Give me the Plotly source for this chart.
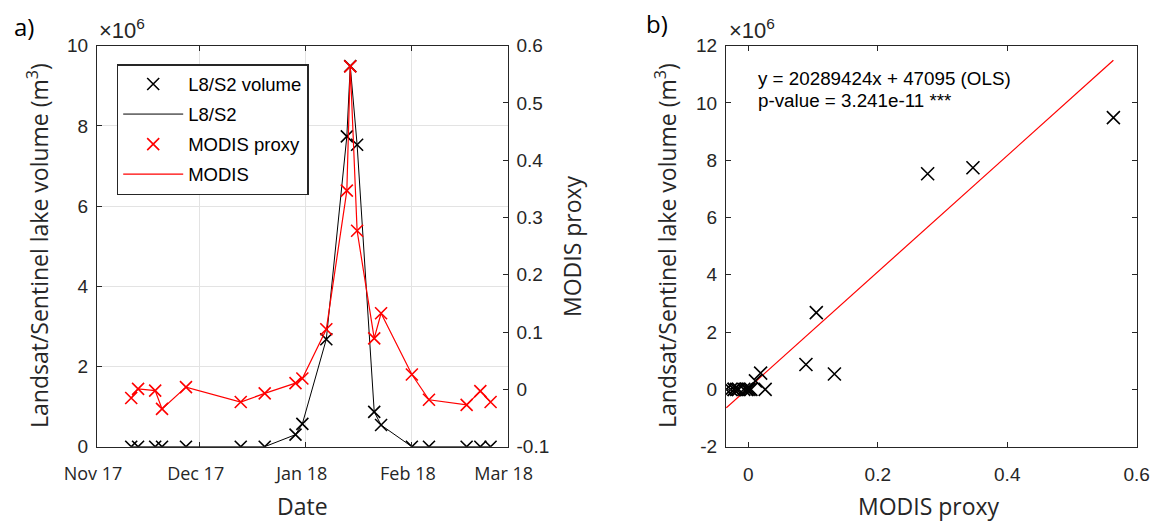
import plotly.graph_objects as go

# ---- data -------------------------------------------------------------
dates = ['2017-11-11', '2017-11-13', '2017-11-18', '2017-11-20', '2017-11-27',
         '2017-12-13', '2017-12-20', '2017-12-29', '2017-12-31', '2018-01-07',
         '2018-01-13', '2018-01-14', '2018-01-16', '2018-01-21', '2018-01-23',
         '2018-02-01', '2018-02-06', '2018-02-17', '2018-02-21', '2018-02-24']

# Landsat 8 / Sentinel-2 lake volume (m^3)
volume = [0, 0, 0, 0, 0,
          0, 0, 0.30e6, 0.57e6, 2.68e6,
          7.74e6, 9.49e6, 7.53e6, 0.87e6, 0.54e6,
          0, 0, 0, 0, 0]

# MODIS proxy (dimensionless)
modis = [-0.015, 0.001, -0.002, -0.034, 0.004,
         -0.022, -0.007, 0.011, 0.019, 0.105,
         0.347, 0.564, 0.277, 0.089, 0.133,
         0.026, -0.018, -0.027, -0.003, -0.022]

# OLS fit of volume on MODIS proxy
ols_slope = 20289424
ols_intercept = 47095
p_value_text = "3.241e-11 ***"

vol_ticks = [0, 2e6, 4e6, 6e6, 8e6, 10e6]
vol_ticks_b = [-2e6, 0, 2e6, 4e6, 6e6, 8e6, 10e6, 12e6]
modis_ticks = [-0.1, 0, 0.1, 0.2, 0.3, 0.4, 0.5, 0.6]
modis_ticks_b = [0, 0.2, 0.4, 0.6]

# ---- figure geometry ---------------------------------------------------
W, H = 1165, 522


def px(x):
    return x / W


def py(y):
    return 1 - y / H


AX = '#262626'
GRID = '#e3e3e3'
NUM_FONT = 'Liberation Sans, Arial, sans-serif'
TXT_FONT = 'Open Sans, Noto Sans, sans-serif'

fit_x = [min(modis), max(modis)]
fit_y = [ols_slope * v + ols_intercept for v in fit_x]

fig = go.Figure()

# panel a) time series
fig.add_trace(go.Scatter(x=dates, y=volume, mode='lines', name='L8/S2',
                         line=dict(color='black', width=1),
                         xaxis='x', yaxis='y', legendrank=2, legendgroup='b'))
fig.add_trace(go.Scatter(x=dates, y=volume, mode='markers', name='L8/S2 volume',
                         marker=dict(symbol='x-thin', size=12, color='black',
                                     line=dict(color='black', width=1.6)),
                         xaxis='x', yaxis='y', legendrank=1, legendgroup='a'))
fig.add_trace(go.Scatter(x=dates, y=modis, mode='lines', name='MODIS',
                         line=dict(color='#ff0000', width=1.2),
                         xaxis='x', yaxis='y2', legendrank=4, legendgroup='d'))
fig.add_trace(go.Scatter(x=dates, y=modis, mode='markers', name='MODIS proxy',
                         marker=dict(symbol='x-thin', size=12, color='#ff0000',
                                     line=dict(color='#ff0000', width=1.6)),
                         xaxis='x', yaxis='y2', legendrank=3, legendgroup='c'))

# panel b) scatter + regression
fig.add_trace(go.Scatter(x=fit_x, y=fit_y, mode='lines', showlegend=False,
                         line=dict(color='#ff0000', width=1.2),
                         xaxis='x2', yaxis='y3'))
fig.add_trace(go.Scatter(x=modis, y=volume, mode='markers', showlegend=False,
                         marker=dict(symbol='x-thin', size=13, color='black',
                                     line=dict(color='black', width=1.6)),
                         xaxis='x2', yaxis='y3'))

dom_y = [py(446.7), py(45.7)]
common = dict(showline=True, linecolor=AX, linewidth=1, ticks='inside',
              ticklen=5, tickwidth=1, tickcolor=AX, zeroline=False,
              automargin=False)

fig.update_layout(
    width=W, height=H,
    margin=dict(l=0, r=0, t=0, b=0, autoexpand=False),
    paper_bgcolor='white', plot_bgcolor='white',
    xaxis=dict(domain=[px(97), px(507.7)], type='date',
               range=['2017-11-01', '2018-03-01'],
               tick0='2017-11-01', dtick='M1', tickformat='%b %y',
               showgrid=True, gridcolor=GRID, mirror='ticks',
               tickfont=dict(family=TXT_FONT, size=18, color=AX),
               ticklabelstandoff=11, ticklabelshift=-4, anchor='y', **common),
    yaxis=dict(domain=dom_y, range=[0, 10e6], tickvals=vol_ticks,
               ticktext=[f'{v / 1e6:g}' for v in vol_ticks],
               showgrid=True, gridcolor=GRID, anchor='x',
               tickfont=dict(family=NUM_FONT, size=19, color=AX),
               ticklabelstandoff=4, **common),
    yaxis2=dict(overlaying='y', side='right', anchor='x', range=[-0.1, 0.6],
                tickvals=modis_ticks, ticktext=[f'{v:g}' for v in modis_ticks],
                showgrid=False,
                tickfont=dict(family=NUM_FONT, size=19, color=AX),
                ticklabelstandoff=4, **common),
    xaxis2=dict(domain=[px(726), px(1136.7)], range=[-0.0345, 0.6],
                tickvals=modis_ticks_b, ticktext=[f'{v:g}' for v in modis_ticks_b],
                showgrid=False, mirror='ticks', anchor='y3',
                tickfont=dict(family=NUM_FONT, size=19, color=AX),
                ticklabelstandoff=10, **common),
    yaxis3=dict(domain=dom_y, range=[-2e6, 12e6], tickvals=vol_ticks_b,
                ticktext=[f'{v / 1e6:g}' for v in vol_ticks_b],
                showgrid=False, mirror='ticks', anchor='x2',
                tickfont=dict(family=NUM_FONT, size=19, color=AX),
                ticklabelstandoff=4, **common),
    legend=dict(x=px(116.7), y=py(64), xanchor='left', yanchor='top',
                bgcolor='white', bordercolor=AX, borderwidth=1.5,
                font=dict(family=NUM_FONT, size=18.5, color='black'),
                itemwidth=60, tracegroupgap=3, traceorder='grouped'),
    showlegend=True,
)

ann = []
# panel labels
ann.append(dict(text='a)', x=px(12), y=py(27), xanchor='left', yanchor='middle',
                font=dict(family=TXT_FONT, size=24, color='black')))
ann.append(dict(text='b)', x=px(644), y=py(24), xanchor='left', yanchor='middle',
                font=dict(family=TXT_FONT, size=24, color='black')))
# exponent labels
for xl in (97, 727):
    ann.append(dict(text='×10<sup>6</sup>', x=px(xl), y=py(45), xanchor='left',
                    yanchor='bottom',
                    font=dict(family=NUM_FONT, size=22, color=AX)))
# axis titles
ann.append(dict(text='Date', x=px(302), y=py(506), xanchor='center', yanchor='middle',
                font=dict(family=TXT_FONT, size=23, color=AX)))
ann.append(dict(text='MODIS proxy', x=px(929), y=py(506), xanchor='center',
                yanchor='middle', font=dict(family=TXT_FONT, size=23, color=AX)))
for xl in (38, 666):
    ann.append(dict(text='Landsat/Sentinel lake volume (m<sup>3</sup>)', x=px(xl),
                    y=py(246), xanchor='center', yanchor='middle', textangle=-90,
                    font=dict(family=TXT_FONT, size=23, color=AX)))
ann.append(dict(text='MODIS proxy', x=px(572), y=py(246), xanchor='center',
                yanchor='middle', textangle=-90,
                font=dict(family=TXT_FONT, size=23, color=AX)))
# regression text
ann.append(dict(text=f'y = {ols_slope}x + {ols_intercept} (OLS)', x=px(756),
                y=py(78), xanchor='left', yanchor='middle',
                font=dict(family=NUM_FONT, size=18.8, color='black')))
ann.append(dict(text=f'p-value = {p_value_text}', x=px(756), y=py(101),
                xanchor='left', yanchor='middle',
                font=dict(family=NUM_FONT, size=18.8, color='black')))

for a in ann:
    a.update(xref='paper', yref='paper', showarrow=False)
fig.update_layout(annotations=ann)

fig.write_html('out.html')
